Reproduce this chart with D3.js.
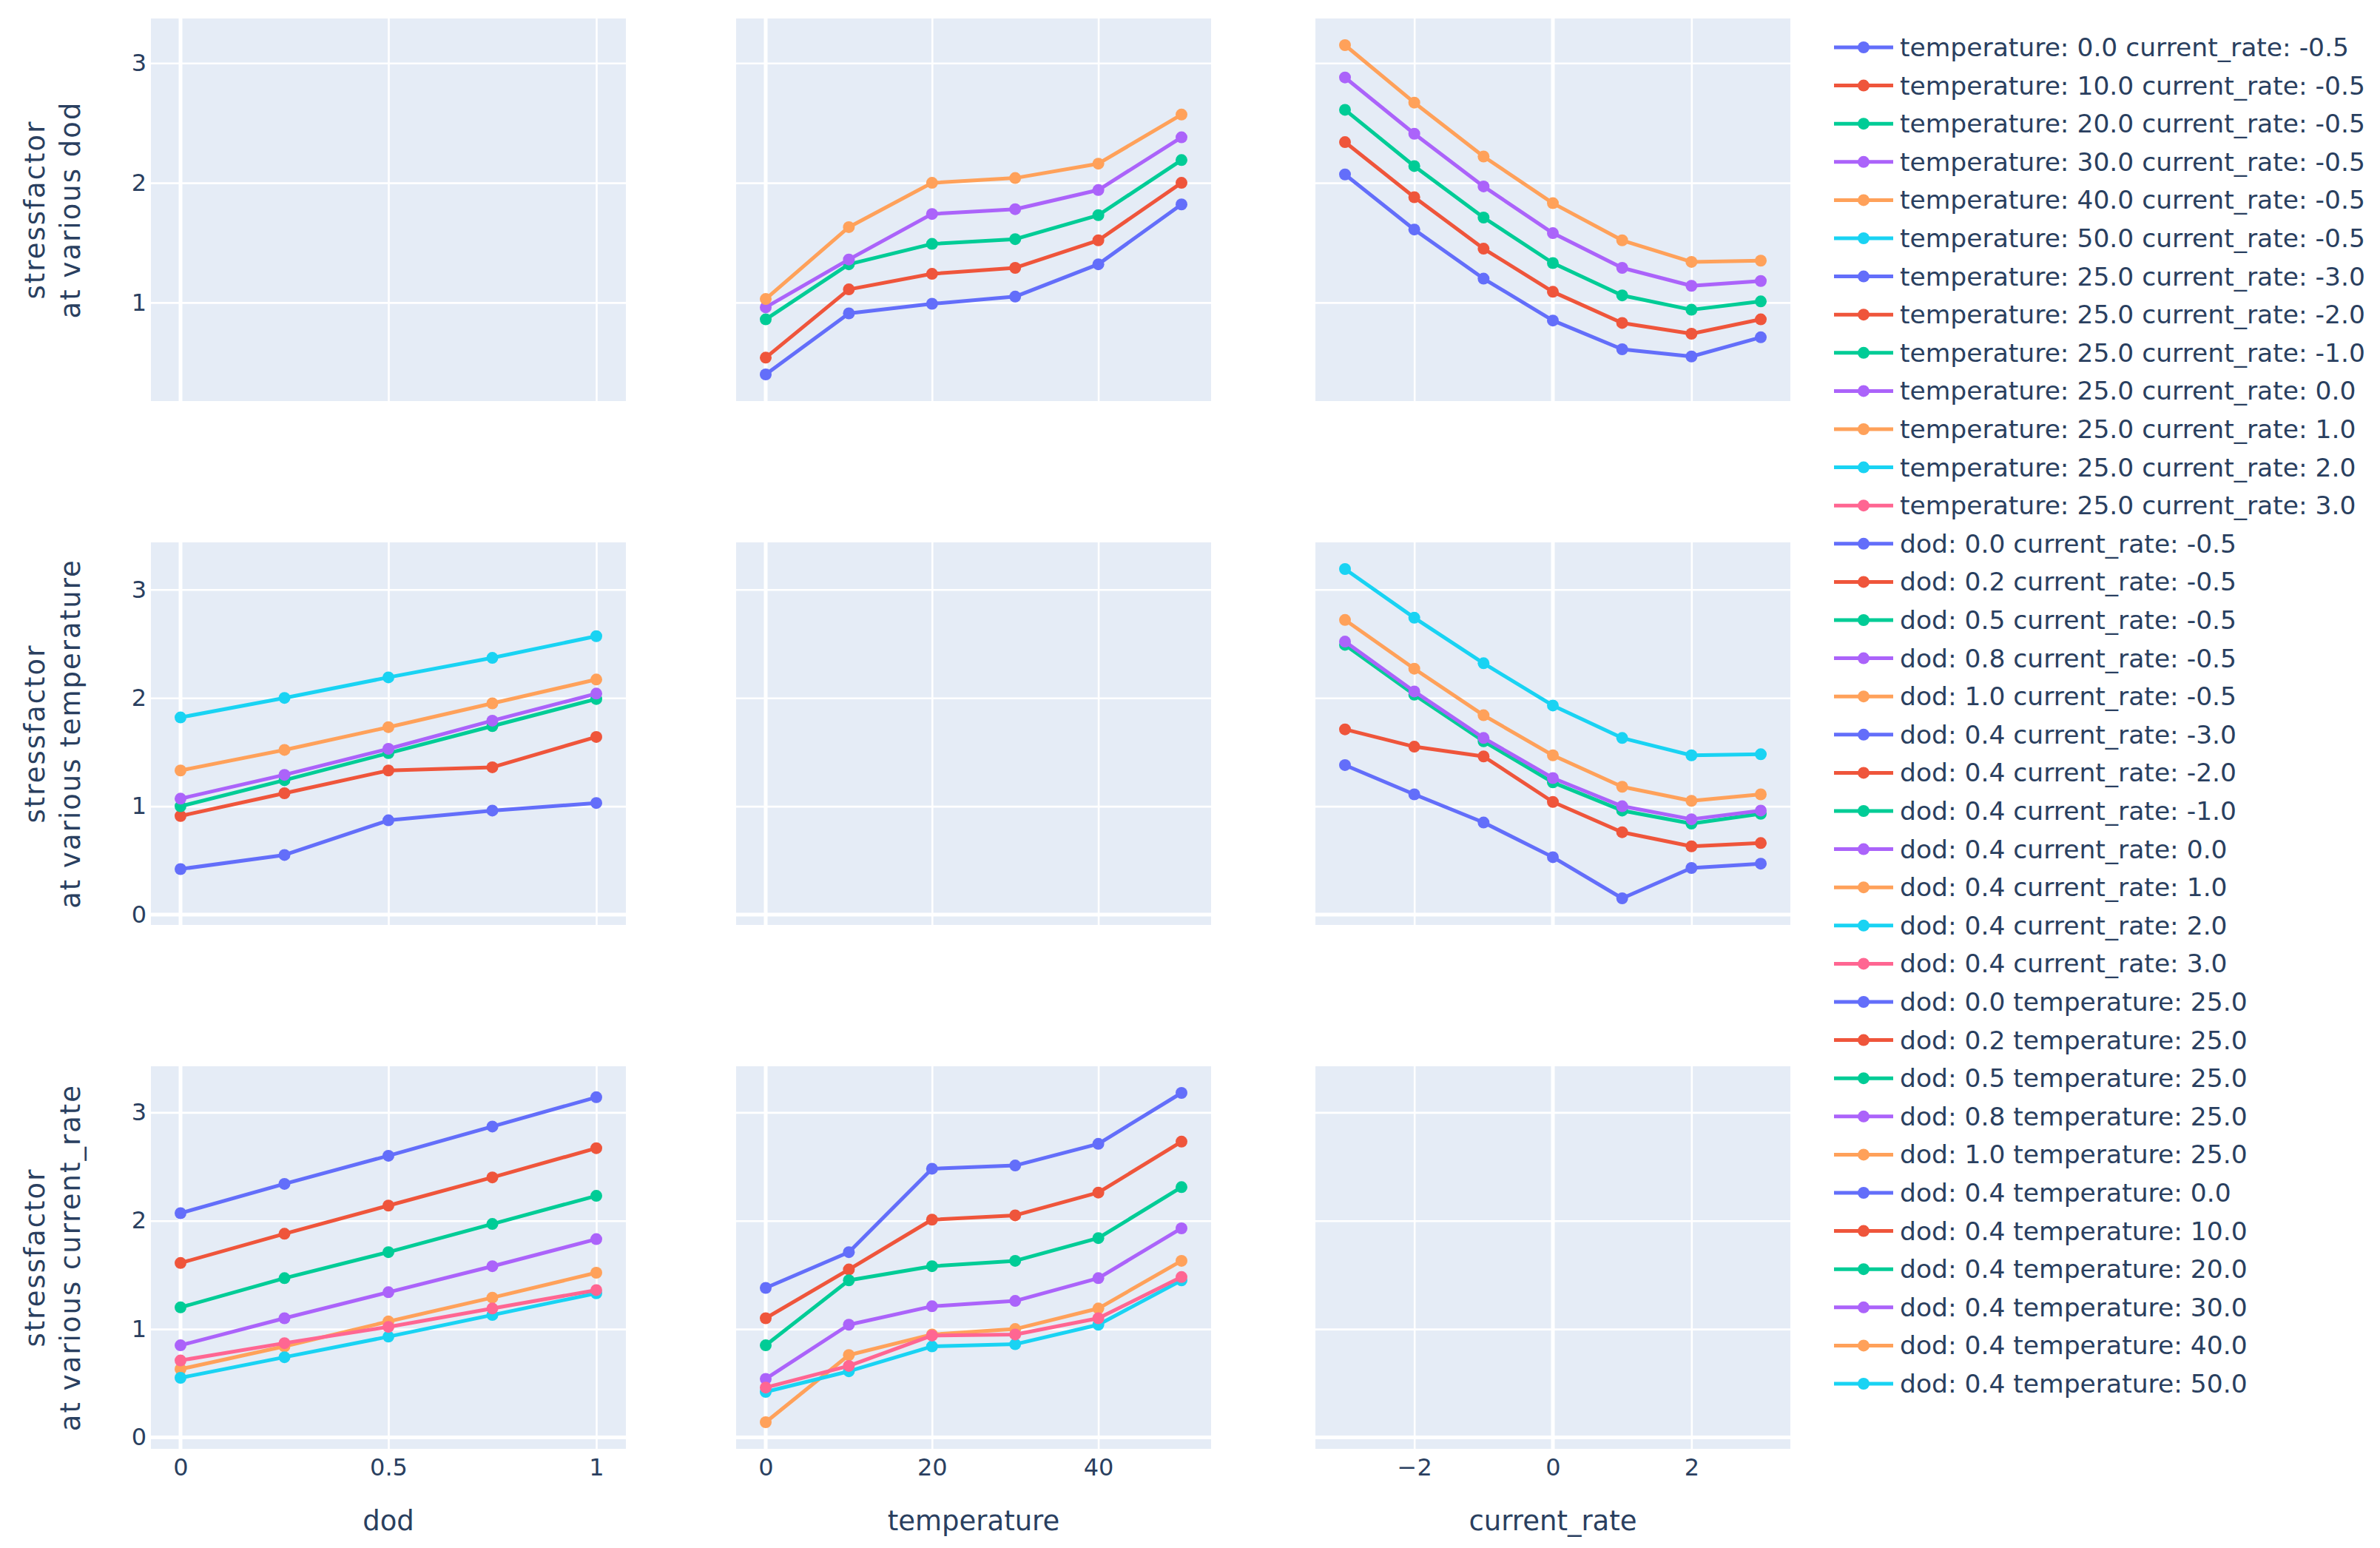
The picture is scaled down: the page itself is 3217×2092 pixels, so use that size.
<!DOCTYPE html>
<html lang="en">
<head>
<meta charset="UTF-8">
<title>stressfactor grid</title>
<script src="https://d3js.org/d3.v7.min.js"></script>
<style>
    body { margin: 0; background: #fff; }
    text { font-family: "DejaVu Sans", sans-serif; fill: #2a3f5f; }
    .grid line { stroke: #fff; stroke-width: 2.6; }
    .grid path { display: none; }
    .grid text { font-size: 32px; }
</style>
</head>
<body>
<svg id="chart" width="3217" height="2092"></svg>
<script>
// x values and the labels used in the legend
const dodValues = [0, 0.25, 0.5, 0.75, 1];
const dodLabels = ["0.0", "0.2", "0.5", "0.8", "1.0"];
const temperatureValues = [0, 10, 20, 30, 40, 50];
const temperatureLabels = ["0.0", "10.0", "20.0", "30.0", "40.0", "50.0"];
const currentRateValues = [-3, -2, -1, 0, 1, 2, 3];
const currentRateLabels = ["-3.0", "-2.0", "-1.0", "0.0", "1.0", "2.0", "3.0"];

// x = dod, one line per temperature (current_rate -0.5)
const dodByTemperature = [
    [0.42, 0.55, 0.87, 0.96, 1.03],
    [0.91, 1.12, 1.33, 1.36, 1.64],
    [1.00, 1.24, 1.49, 1.74, 1.99],
    [1.07, 1.29, 1.53, 1.79, 2.04],
    [1.33, 1.52, 1.73, 1.95, 2.17],
    [1.82, 2.00, 2.19, 2.37, 2.57]
];
// x = dod, one line per current_rate (temperature 25)
const dodByCurrentRate = [
    [2.07, 2.34, 2.60, 2.87, 3.14],
    [1.61, 1.88, 2.14, 2.40, 2.67],
    [1.20, 1.47, 1.71, 1.97, 2.23],
    [0.85, 1.10, 1.34, 1.58, 1.83],
    [0.63, 0.84, 1.07, 1.29, 1.52],
    [0.55, 0.74, 0.93, 1.13, 1.33],
    [0.71, 0.87, 1.02, 1.19, 1.36]
];
// x = temperature, one line per dod (current_rate -0.5)
const temperatureByDod = [
    [0.40, 0.91, 0.99, 1.05, 1.32, 1.82],
    [0.54, 1.11, 1.24, 1.29, 1.52, 2.00],
    [0.86, 1.32, 1.49, 1.53, 1.73, 2.19],
    [0.96, 1.36, 1.74, 1.78, 1.94, 2.38],
    [1.03, 1.63, 2.00, 2.04, 2.16, 2.57]
];
// x = temperature, one line per current_rate (dod 0.4)
const temperatureByCurrentRate = [
    [1.38, 1.71, 2.48, 2.51, 2.71, 3.18],
    [1.10, 1.55, 2.01, 2.05, 2.26, 2.73],
    [0.85, 1.45, 1.58, 1.63, 1.84, 2.31],
    [0.54, 1.04, 1.21, 1.26, 1.47, 1.93],
    [0.14, 0.76, 0.95, 1.00, 1.19, 1.63],
    [0.42, 0.61, 0.84, 0.86, 1.04, 1.45],
    [0.46, 0.66, 0.94, 0.95, 1.10, 1.48]
];
// x = current_rate, one line per dod (temperature 25)
const currentRateByDod = [
    [2.07, 1.61, 1.20, 0.85, 0.61, 0.55, 0.71],
    [2.34, 1.88, 1.45, 1.09, 0.83, 0.74, 0.86],
    [2.61, 2.14, 1.71, 1.33, 1.06, 0.94, 1.01],
    [2.88, 2.41, 1.97, 1.58, 1.29, 1.14, 1.18],
    [3.15, 2.67, 2.22, 1.83, 1.52, 1.34, 1.35]
];
// x = current_rate, one line per temperature (dod 0.4)
const currentRateByTemperature = [
    [1.38, 1.11, 0.85, 0.53, 0.15, 0.43, 0.47],
    [1.71, 1.55, 1.46, 1.04, 0.76, 0.63, 0.66],
    [2.49, 2.03, 1.60, 1.22, 0.96, 0.84, 0.93],
    [2.52, 2.06, 1.63, 1.26, 1.00, 0.88, 0.96],
    [2.72, 2.27, 1.84, 1.47, 1.18, 1.05, 1.11],
    [3.19, 2.74, 2.32, 1.93, 1.63, 1.47, 1.48]
];

const xTitles = ["dod", "temperature", "current_rate"];
const yTitles = ["at various dod", "at various temperature", "at various current_rate"];
const xTickValues = [[0, 0.5, 1], [0, 20, 40], [-2, 0, 2]];
const yTickValues = [[1, 2, 3], [0, 1, 2, 3], [0, 1, 2, 3]];
const colors = ["#636efa", "#EF553B", "#00cc96", "#ab63fa", "#FFA15A", "#19d3f3", "#FF6692"];

// panels in legend (= drawing) order
const panels = [
    {row: 1, col: 0, series: dodByTemperature,
     names: temperatureLabels.map(t => `temperature: ${t} current_rate: -0.5`)},
    {row: 2, col: 0, series: dodByCurrentRate,
     names: currentRateLabels.map(c => `temperature: 25.0 current_rate: ${c}`)},
    {row: 0, col: 1, series: temperatureByDod,
     names: dodLabels.map(d => `dod: ${d} current_rate: -0.5`)},
    {row: 2, col: 1, series: temperatureByCurrentRate,
     names: currentRateLabels.map(c => `dod: 0.4 current_rate: ${c}`)},
    {row: 0, col: 2, series: currentRateByDod,
     names: dodLabels.map(d => `dod: ${d} temperature: 25.0`)},
    {row: 1, col: 2, series: currentRateByTemperature,
     names: temperatureLabels.map(t => `dod: 0.4 temperature: ${t}`)}
];
const xValues = [dodValues, temperatureValues, currentRateValues];

// layout
const W = 642, H = 517;
const colX = [204, 995, 1778];
const rowY = [25, 733, 1441];
const padX = 40, padY = 36;

function padded(ext, len, pad) {
    const k = (len - 2 * pad) / (ext[1] - ext[0]);
    return [ext[0] - pad / k, ext[1] + pad / k];
}

const xScales = xValues.map(v => d3.scaleLinear().domain(padded(d3.extent(v), W, padX)).range([0, W]));
const yScales = [0, 1, 2].map(r => {
    const all = panels.filter(p => p.row === r).flatMap(p => p.series.flat());
    return d3.scaleLinear().domain(padded(d3.extent(all), H, padY)).range([H, 0]);
});

const svg = d3.select("#chart");
const fmt = d3.format("~g");

// backgrounds + grids for all 9 cells
for (let r = 0; r < 3; r++) {
    for (let c = 0; c < 3; c++) {
        const g = svg.append("g").attr("transform", `translate(${colX[c]},${rowY[r]})`);
        const x = xScales[c], y = yScales[r];
        g.append("rect").attr("width", W).attr("height", H).attr("fill", "#E5ECF6");

        g.append("g").attr("class", "grid")
            .attr("transform", `translate(0,${H})`)
            .call(d3.axisBottom(x).tickValues(xTickValues[c]).tickSize(-H).tickPadding(13)
                .tickFormat(r === 2 ? fmt : ""));

        g.append("g").attr("class", "grid")
            .call(d3.axisLeft(y).tickValues(yTickValues[r]).tickSize(-W).tickPadding(6)
                .tickFormat(c === 0 ? fmt : ""));

        // zero lines
        if (x.domain()[0] < 0 && x.domain()[1] > 0) {
            g.append("line").attr("x1", x(0)).attr("x2", x(0)).attr("y1", 0).attr("y2", H)
                .attr("stroke", "#fff").attr("stroke-width", 5);
        }
        if (y.domain()[0] < 0 && y.domain()[1] > 0) {
            g.append("line").attr("x1", 0).attr("x2", W).attr("y1", y(0)).attr("y2", y(0))
                .attr("stroke", "#fff").attr("stroke-width", 5);
        }
    }
}

// traces
const legendItems = [];
panels.forEach(p => {
    const g = svg.append("g").attr("transform", `translate(${colX[p.col]},${rowY[p.row]})`);
    const x = xScales[p.col], y = yScales[p.row], xs = xValues[p.col];
    const line = d3.line().x((d, i) => x(xs[i])).y(d => y(d));
    p.series.forEach((s, i) => {
        const color = colors[i % colors.length];
        g.append("path").datum(s).attr("d", line)
            .attr("fill", "none").attr("stroke", color).attr("stroke-width", 5)
            .attr("stroke-linejoin", "round");
        g.selectAll(null).data(s).enter().append("circle")
            .attr("cx", (d, j) => x(xs[j])).attr("cy", d => y(d)).attr("r", 8)
            .attr("fill", color);
        legendItems.push({name: p.names[i], color});
    });
});

// axis titles
xTitles.forEach((t, c) => {
    svg.append("text").attr("x", colX[c] + W / 2).attr("y", 2068)
        .attr("text-anchor", "middle").style("font-size", "37px").text(t);
});
yTitles.forEach((t, r) => {
    const txt = svg.append("text")
        .attr("transform", `translate(60,${rowY[r] + H / 2}) rotate(-90)`)
        .attr("text-anchor", "middle").style("font-size", "37px")
        .style("letter-spacing", "2px");
    txt.append("tspan").attr("x", 0).attr("dy", 0).text("stressfactor");
    txt.append("tspan").attr("x", 0).attr("dy", 48).text(t);
});

// legend
const legend = svg.append("g").attr("transform", "translate(2479,64)");
const item = legend.selectAll("g").data(legendItems).enter().append("g")
    .attr("transform", (d, i) => `translate(0,${i * 51.6})`);
item.append("line").attr("x1", 0).attr("x2", 80)
    .attr("stroke", d => d.color).attr("stroke-width", 5);
item.append("circle").attr("cx", 40).attr("r", 8).attr("fill", d => d.color);
item.append("text").attr("x", 89).attr("dy", "0.35em").style("font-size", "34.5px")
    .text(d => d.name);
</script>
</body>
</html>
